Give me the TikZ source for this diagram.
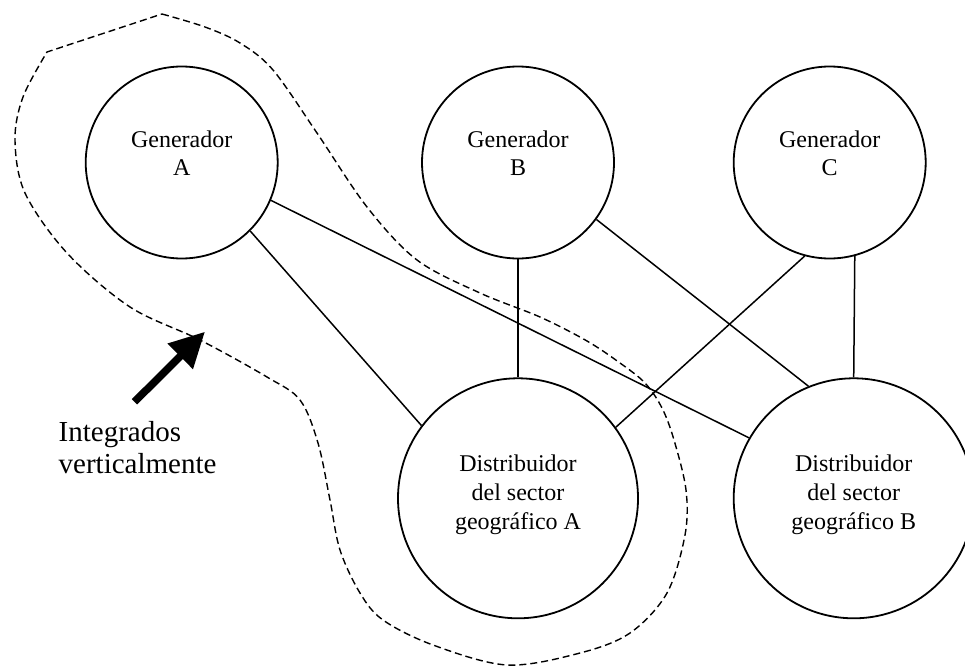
\documentclass[tikz,border=0pt]{standalone}
\usepackage{fontspec}
\setmainfont{Liberation Serif}
\usetikzlibrary{arrows.meta}
\tikzset{
  gennode/.style={circle, draw, line width=1.8pt, minimum size=192pt, inner sep=0pt},
  distnode/.style={circle, draw, line width=1.8pt, minimum size=240pt, inner sep=0pt},
  gtext/.style={anchor=base, align=center, inner sep=0pt, font=\fontsize{24}{27.7}\selectfont},
  dtext/.style={anchor=base, align=center, inner sep=0pt, font=\fontsize{24}{28.6}\selectfont},
  ltext/.style={anchor=base west, align=left, inner sep=0pt, font=\fontsize{29}{31.7}\selectfont},
  conn/.style={line width=1.5pt},
  groupline/.style={line width=1.4pt, dash pattern=on 7pt off 4pt},
  bigarrow/.style={line width=7.6pt, -{Triangle[length=35pt,width=34pt]}}
}
\begin{document}
\begin{tikzpicture}[x=1pt,y=-1pt]
\clip (0,0) rectangle (965,666);
\useasboundingbox (0,0) rectangle (965,666);

% nodes
\node[gennode] (GA) at (181.7,162.5) {};
\node[gennode] (GB) at (518,162.5) {};
\node[gennode] (GC) at (829.7,162.5) {};
\node[distnode] (DA) at (518,498.3) {};
\node[distnode] (DB) at (853.7,498.3) {};

\node[gtext] (GAt) at (181.7,175) {Generador\\A};
\node[gtext] (GBt) at (518,175) {Generador\\B};
\node[gtext] (GCt) at (829.7,175) {Generador\\C};
\node[dtext] (DAt) at (518,529) {Distribuidor\\del sector\\geográfico A};
\node[dtext] (DBt) at (853.7,529) {Distribuidor\\del sector\\geográfico B};

\node[ltext] (lab) at (58.5,473.3) {Integrados\\verticalmente};

% connectors
\draw[conn] (GA.-45) -- (DA.143);
\draw[conn] (GA.-23.7) -- (DB.150.7);
\draw[conn] (GB.-90) -- (DA.90);
\draw[conn] (GB.-36.8) -- (DB.112);
\draw[conn] (GC.-105) -- (DA.36.7);
\draw[conn] (GC.-75.6) -- (DB.90);

% dashed group outline
\draw[groupline] plot[smooth, tension=0.55] coordinates {
 (162,14) (205,27) (240,43) (273,70) (317,133) (367,207) (417,260)
 (480,293) (540,317) (587,341) (620,363) (645,383) (662,408) (674,440)
 (686,490) (685,535) (667,593) (630,633) (580,653) (507,665) (433,645)
 (383,620) (360,593) (340,550) (330,500) (318,443) (300,400) (267,377)
 (200,340) (130,307) (67,253) (25,193) (15,140) (23,97) (47,52)} -- cycle;

% arrow
\coordinate (arrtail) at (134.5,401.8);
\coordinate (arrtip) at (205,331.7);
\draw[bigarrow] (arrtail) -- (arrtip);
\end{tikzpicture}
\end{document}
